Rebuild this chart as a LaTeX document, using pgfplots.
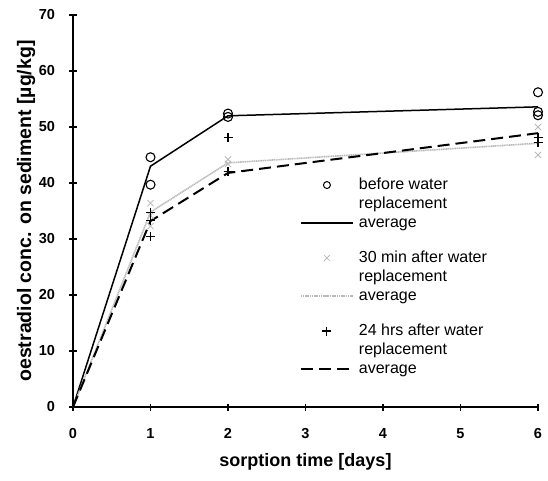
\documentclass[border=0pt]{standalone}
\usepackage{fontspec}
\setmainfont{Liberation Sans}
\usepackage{pgfplots}
\pgfplotsset{compat=1.18}
\begin{document}
\begin{tikzpicture}
\begin{axis}[
  width=465pt, height=392pt, scale only axis,
  xmin=0, xmax=6, ymin=0, ymax=70,
  xtick={0,1,2,3,4,5,6}, ytick={0,10,20,30,40,50,60,70},
  axis lines=left,
  axis line style={-, line width=1.6pt},
  tick align=center, major tick length=7pt,
  tick style={black, line width=1.3pt},
  /pgf/number format/assume math mode=true,
  ticklabel style={font=\bfseries\fontsize{14.5}{14.5}\selectfont},
  yticklabel style={anchor=east, xshift=-11pt},
  xticklabel style={anchor=north, yshift=-14pt},
  xlabel={sorption time [days]},
  ylabel={oestradiol conc. on sediment [µg/kg]},
  xlabel style={font=\bfseries\fontsize{18}{18}\selectfont, at={(axis description cs:0.5,-0.14)}, anchor=center},
  ylabel style={font=\bfseries\fontsize{19.5}{19.5}\selectfont, at={(axis description cs:-0.101,0.5)}, anchor=center},
  clip=false,
  legend cell align=left,
  legend image code/.code={\draw[mark repeat=2,mark phase=2,#1] plot coordinates {(0pt,0pt) (26pt,0pt) (52pt,0pt)};},
  legend style={draw=none, fill=none, inner sep=0pt, outer sep=0pt,
    at={(rel axis cs:0.488,0.586)}, anchor=north west,
    row sep=3.5pt, column sep=5pt,
    nodes={inner sep=0pt, text height=12pt, text depth=3.5pt, font=\fontsize{16}{19}\selectfont}},
]
% before water replacement
\addplot[black, line width=1.5pt, forget plot] coordinates {(0,0) (1,43) (2,52) (6,53.6)};
\addplot[only marks, mark=o, mark size=4.5pt, black, line width=1.1pt, forget plot]
  coordinates {(1,44.6) (1,39.7) (2,52.4) (2,51.8) (6,56.2) (6,52.7) (6,52.1)};
% 30 min after
\addplot[gray!55, line width=1.6pt, dash pattern=on 1.2pt off 0.6pt, forget plot] coordinates {(0,0) (1,34.8) (2,43.6) (6,47.1)};
\addplot[only marks, mark=x, mark size=4.5pt, gray!55, line width=0.8pt, forget plot]
  coordinates {(1,36.4) (1,34.2) (1,32.3) (2,44.2) (2,43.4) (6,50) (6,45)};
% 24 hrs after
\addplot[black, line width=2pt, dash pattern=on 12pt off 6pt, forget plot] coordinates {(0,0) (1,33.2) (2,41.8) (6,48.9)};
\addplot[only marks, mark=+, mark size=4.5pt, black, line width=1.1pt, forget plot]
  coordinates {(1,34.7) (1,33.3) (1,30.4) (2,48.2) (2,42) (6,48.2) (6,47.3)};
\coordinate (o) at (rel axis cs:0,0);
\coordinate (t) at (rel axis cs:1,1);
% legend
\addlegendimage{only marks, mark=o, mark size=3.5pt, black, line width=1pt}
\addlegendentry{before water}
\addlegendimage{empty legend}
\addlegendentry{replacement}
\addlegendimage{black, line width=1.5pt}
\addlegendentry{average}
\addlegendimage{empty legend}
\addlegendentry[text height=12.5pt,text depth=0pt]{}
\addlegendimage{only marks, mark=x, mark size=4pt, gray!55, line width=0.8pt}
\addlegendentry{30 min after water}
\addlegendimage{empty legend}
\addlegendentry{replacement}
\addlegendimage{gray!55, line width=1.6pt, dash pattern=on 1.2pt off 0.6pt}
\addlegendentry{average}
\addlegendimage{empty legend}
\addlegendentry[text height=12.5pt,text depth=0pt]{}
\addlegendimage{only marks, mark=+, mark size=4.5pt, black, line width=1.1pt}
\addlegendentry{24 hrs after water}
\addlegendimage{empty legend}
\addlegendentry{replacement}
\addlegendimage{black, line width=2pt, dash pattern=on 12pt off 6pt}
\addlegendentry{average}
\end{axis}
\pgfresetboundingbox
\path ([shift={(-73pt,-73pt)}]o) rectangle ([shift={(10pt,15pt)}]t);
\end{tikzpicture}
\end{document}
